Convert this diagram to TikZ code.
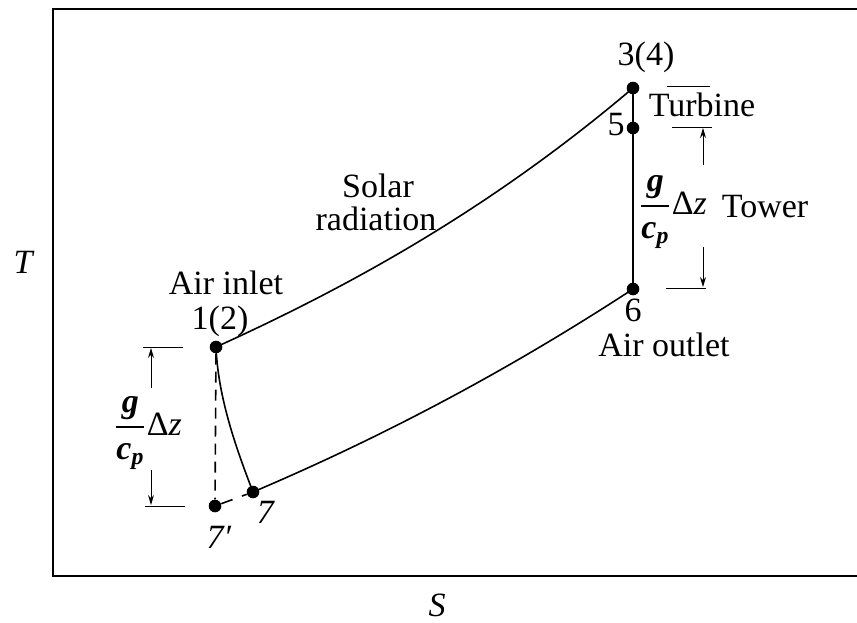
\documentclass[tikz,border=0pt]{standalone}
\usepackage{amsmath}
\usepackage{fontspec}
\setmainfont{Liberation Serif}
\usetikzlibrary{arrows.meta}
\newcommand\gcpdz{$\displaystyle\frac{\textbf{\textit{g}}}{\textbf{\textit{c}}_{\textbf{\textit{p}}}}$Δ\textit{z}}
\begin{document}
\begin{tikzpicture}[x=0.5pt,y=-0.5pt,
  lbl/.style={font=\fontsize{17}{20}\selectfont, inner sep=0pt},
  dot/.style={circle,fill,inner sep=0pt,minimum size=6.3pt},
  curve/.style={line width=0.8pt},
  dim/.style={line width=0.5pt},
  tipend/.style={-{Stealth[length=5pt,width=3pt]}}
]
\useasboundingbox (0,0) rectangle (857,622);
\fill[white] (0,0) rectangle (857,622);
% frame
\draw[line width=1pt] (857,9) -- (53,9) -- (53,576) -- (857,576);

% state points
\node[dot] (p3) at (633,88) {};
\node[dot] (p5) at (633,128) {};
\node[dot] (p6) at (633,289) {};
\node[dot] (p1) at (216,347) {};
\node[dot] (p7) at (253,492) {};
\node[dot] (p7p) at (215,506) {};

% process lines
\draw[curve] (p1.center) .. controls (355,284) and (494,206) .. (p3.center);
\draw[line width=1.3pt] (p3.center) -- (p6.center);
\draw[curve] (p6.center) .. controls (506,372) and (380,438) .. (p7.center);
\draw[curve] (p1.center) .. controls (218,395) and (234,443) .. (p7.center);
\draw[curve, dash pattern=on 5.5pt off 3.5pt] (p1) -- (p7p);
\draw[curve, dash pattern=on 6pt off 5pt] (p7p) -- (p7);

% right dimension
\coordinate (ta) at (667,86);  \coordinate (tb) at (710,86);
\coordinate (ua) at (672,127); \coordinate (ub) at (712,127);
\coordinate (va) at (666,288); \coordinate (vb) at (706,288);
\coordinate (ra1) at (703,165); \coordinate (ra2) at (703,128);
\coordinate (rb1) at (703,247); \coordinate (rb2) at (703,287);
\draw[dim] (ta) -- (tb);
\draw[dim] (ua) -- (ub);
\draw[dim] (va) -- (vb);
\draw[dim,tipend] (ra1) -- (ra2);
\draw[dim,tipend] (rb1) -- (rb2);

% left dimension
\coordinate (la) at (143,347); \coordinate (lb) at (183,347);
\coordinate (ma) at (145,506); \coordinate (mb) at (185,506);
\coordinate (la1) at (151,388); \coordinate (la2) at (151,348);
\coordinate (lb1) at (151,470); \coordinate (lb2) at (151,505);
\draw[dim] (la) -- (lb);
\draw[dim] (ma) -- (mb);
\draw[dim,tipend] (la1) -- (la2);
\draw[dim,tipend] (lb1) -- (lb2);

% labels
\node[lbl,anchor=base] (l34) at (646,65) {3(4)};
\node[lbl,anchor=base] (lturb) at (702,116) {Turbine};
\node[lbl,anchor=base] (l5) at (616,135) {5};
\node[lbl,anchor=base] (lsol) at (378,197) {Solar};
\node[lbl,anchor=base] (lrad) at (376,230) {radiation};
\node[lbl,anchor=base] (lin) at (226,294) {Air inlet};
\node[lbl,anchor=base] (l12) at (220,329) {1(2)};
\node[lbl,anchor=base] (l6) at (633,321) {6};
\node[lbl,anchor=base] (lout) at (664,356) {Air outlet};
\node[lbl,anchor=base] (l7) at (266,523) {\textit{7}};
\node[lbl,anchor=base] (l7p) at (219,548) {\textit{7′}};
\node[lbl,anchor=base] (ltow) at (765,217) {Tower};
\node[lbl] (fr) at (673,212) {\gcpdz};
\node[lbl] (fl) at (148,433) {\gcpdz};
\node[lbl] (lT) at (24,262) {\textit{T}};
\node[lbl] (lS) at (437,605) {\textit{S}};
\end{tikzpicture}
\end{document}
